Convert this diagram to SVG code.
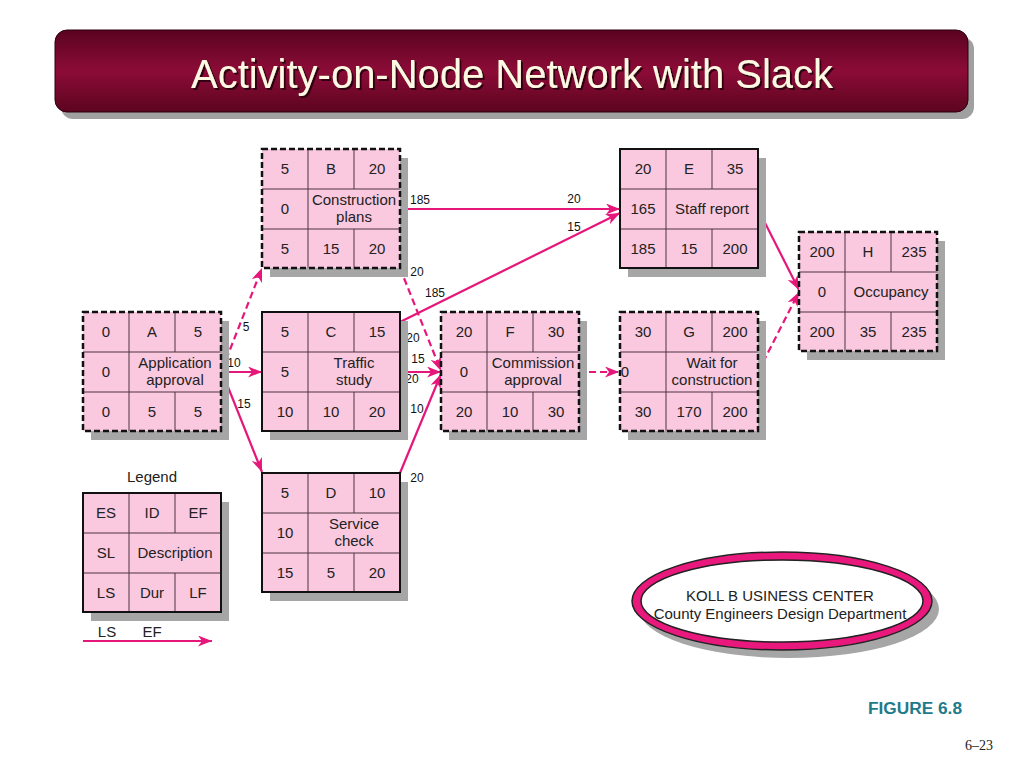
<svg xmlns="http://www.w3.org/2000/svg" width="1024" height="768" viewBox="0 0 1024 768">
<defs>
<linearGradient id="bar" x1="0" y1="0" x2="0" y2="1">
<stop offset="0" stop-color="#5a0320"/>
<stop offset="0.5" stop-color="#8c0c37"/>
<stop offset="1" stop-color="#5c0420"/>
</linearGradient>
<filter id="ts" x="-5%" y="-20%" width="110%" height="150%">
<feDropShadow dx="2" dy="2" stdDeviation="0.6" flood-color="#2a0008" flood-opacity="0.9"/>
</filter>
<marker id="ah" markerUnits="userSpaceOnUse" markerWidth="15" markerHeight="11" refX="14" refY="5.5" orient="auto">
<path d="M0,0 L14,5.5 L0,11 L4,5.5 Z" fill="#e6177b"/>
</marker>
<style>
.cell{fill:#fac8df}
.grid{stroke:#4b3540;stroke-width:1;fill:none}
.crit{fill:none;stroke:#111;stroke-width:2.5;stroke-dasharray:6 3}
.norm{fill:none;stroke:#111;stroke-width:2}
.shadow{fill:#a6a6a6}
.t{font-family:"Liberation Sans",Arial,sans-serif;font-size:15px;fill:#222;text-anchor:middle}
.lbl{font-family:"Liberation Sans",Arial,sans-serif;font-size:12px;fill:#111;text-anchor:middle}
.edge{fill:none;stroke:#e6177b;stroke-width:2.2;marker-end:url(#ah)}
.dash{stroke-dasharray:7 4}
</style>
</defs>
<rect width="1024" height="768" fill="#ffffff"/>

<g id="title">
<rect x="61" y="37" width="913" height="82" rx="12" fill="#a0a0a0"/>
<rect x="55" y="30" width="913" height="82" rx="12" fill="url(#bar)" stroke="#2a0010" stroke-width="1"/>
<text x="512" y="88" font-family="'Liberation Sans',Arial,sans-serif" font-size="40" fill="#fff9e4" text-anchor="middle" textLength="642" lengthAdjust="spacingAndGlyphs" filter="url(#ts)">Activity-on-Node Network with Slack</text>
</g>

<g id="connectors">
<line class="edge dash" x1="222" y1="370" x2="262" y2="268"/>
<line class="edge" x1="222" y1="372" x2="262" y2="372"/>
<line class="edge" x1="222" y1="372" x2="262" y2="472"/>
<line class="edge" x1="400" y1="209" x2="620" y2="209"/>
<line class="edge dash" x1="400" y1="268" x2="441" y2="371"/>
<line class="edge" x1="400" y1="322" x2="620" y2="213"/>
<line class="edge" x1="400" y1="372" x2="441" y2="372"/>
<line class="edge" x1="400" y1="473" x2="441" y2="374"/>
<line class="edge dash" x1="578" y1="372" x2="619" y2="372"/>
<line class="edge" x1="758" y1="209" x2="799" y2="290"/>
<line class="edge dash" x1="758" y1="372" x2="799" y2="292"/>
<line class="edge" x1="83" y1="641" x2="212" y2="641"/>
<text class="lbl" x="246" y="331">5</text>
<text class="lbl" x="234" y="367">10</text>
<text class="lbl" x="244" y="408">15</text>
<text class="lbl" x="420" y="204">185</text>
<text class="lbl" x="574" y="203">20</text>
<text class="lbl" x="574" y="231">15</text>
<text class="lbl" x="417" y="276">20</text>
<text class="lbl" x="435" y="297">185</text>
<text class="lbl" x="413" y="342">20</text>
<text class="lbl" x="418" y="363">15</text>
<text class="lbl" x="412" y="383">20</text>
<text class="lbl" x="417" y="413">10</text>
<text class="lbl" x="417" y="482">20</text>
</g>

<g id="node-A" transform="translate(83,312)">
<rect class="shadow" x="8" y="9" width="138" height="119"/>
<rect class="cell" width="138" height="119"/>
<path class="grid" d="M0 40H138M0 80H138M46 0V119M92 0V40M92 80V119"/>
<rect class="crit" width="138" height="119"/>
<text class="t" x="23" y="25">0</text><text class="t" x="69" y="25">A</text><text class="t" x="115" y="25">5</text>
<text class="t" x="23" y="65">0</text><text class="t" x="92" y="56">Application</text><text class="t" x="92" y="73">approval</text>
<text class="t" x="23" y="105">0</text><text class="t" x="69" y="105">5</text><text class="t" x="115" y="105">5</text>
</g>

<g id="node-B" transform="translate(262,149)">
<rect class="shadow" x="8" y="9" width="138" height="119"/>
<rect class="cell" width="138" height="119"/>
<path class="grid" d="M0 40H138M0 80H138M46 0V119M92 0V40M92 80V119"/>
<rect class="crit" width="138" height="119"/>
<text class="t" x="23" y="25">5</text><text class="t" x="69" y="25">B</text><text class="t" x="115" y="25">20</text>
<text class="t" x="23" y="65">0</text><text class="t" x="92" y="56">Construction</text><text class="t" x="92" y="73">plans</text>
<text class="t" x="23" y="105">5</text><text class="t" x="69" y="105">15</text><text class="t" x="115" y="105">20</text>
</g>

<g id="node-C" transform="translate(262,312)">
<rect class="shadow" x="8" y="9" width="138" height="119"/>
<rect class="cell" width="138" height="119"/>
<path class="grid" d="M0 40H138M0 80H138M46 0V119M92 0V40M92 80V119"/>
<rect class="norm" width="138" height="119"/>
<text class="t" x="23" y="25">5</text><text class="t" x="69" y="25">C</text><text class="t" x="115" y="25">15</text>
<text class="t" x="23" y="65">5</text><text class="t" x="92" y="56">Traffic</text><text class="t" x="92" y="73">study</text>
<text class="t" x="23" y="105">10</text><text class="t" x="69" y="105">10</text><text class="t" x="115" y="105">20</text>
</g>

<g id="node-D" transform="translate(262,473)">
<rect class="shadow" x="8" y="9" width="138" height="119"/>
<rect class="cell" width="138" height="119"/>
<path class="grid" d="M0 40H138M0 80H138M46 0V119M92 0V40M92 80V119"/>
<rect class="norm" width="138" height="119"/>
<text class="t" x="23" y="25">5</text><text class="t" x="69" y="25">D</text><text class="t" x="115" y="25">10</text>
<text class="t" x="23" y="65">10</text><text class="t" x="92" y="56">Service</text><text class="t" x="92" y="73">check</text>
<text class="t" x="23" y="105">15</text><text class="t" x="69" y="105">5</text><text class="t" x="115" y="105">20</text>
</g>

<g id="node-E" transform="translate(620,149)">
<rect class="shadow" x="8" y="9" width="138" height="119"/>
<rect class="cell" width="138" height="119"/>
<path class="grid" d="M0 40H138M0 80H138M46 0V119M92 0V40M92 80V119"/>
<rect class="norm" width="138" height="119"/>
<text class="t" x="23" y="25">20</text><text class="t" x="69" y="25">E</text><text class="t" x="115" y="25">35</text>
<text class="t" x="23" y="65">165</text><text class="t" x="92" y="65">Staff report</text>
<text class="t" x="23" y="105">185</text><text class="t" x="69" y="105">15</text><text class="t" x="115" y="105">200</text>
</g>

<g id="node-F" transform="translate(441,312)">
<rect class="shadow" x="8" y="9" width="138" height="119"/>
<rect class="cell" width="138" height="119"/>
<path class="grid" d="M0 40H138M0 80H138M46 0V119M92 0V40M92 80V119"/>
<rect class="crit" width="138" height="119"/>
<text class="t" x="23" y="25">20</text><text class="t" x="69" y="25">F</text><text class="t" x="115" y="25">30</text>
<text class="t" x="23" y="65">0</text><text class="t" x="92" y="56">Commission</text><text class="t" x="92" y="73">approval</text>
<text class="t" x="23" y="105">20</text><text class="t" x="69" y="105">10</text><text class="t" x="115" y="105">30</text>
</g>

<g id="node-G" transform="translate(620,312)">
<rect class="shadow" x="8" y="9" width="138" height="119"/>
<rect class="cell" width="138" height="119"/>
<path class="grid" d="M0 40H138M0 80H138M46 0V119M92 0V40M92 80V119"/>
<rect class="crit" width="138" height="119"/>
<text class="t" x="23" y="25">30</text><text class="t" x="69" y="25">G</text><text class="t" x="115" y="25">200</text>
<text class="t" x="5" y="65">0</text><text class="t" x="92" y="56">Wait for</text><text class="t" x="92" y="73">construction</text>
<text class="t" x="23" y="105">30</text><text class="t" x="69" y="105">170</text><text class="t" x="115" y="105">200</text>
</g>

<g id="node-H" transform="translate(799,232)">
<rect class="shadow" x="8" y="9" width="138" height="119"/>
<rect class="cell" width="138" height="119"/>
<path class="grid" d="M0 40H138M0 80H138M46 0V119M92 0V40M92 80V119"/>
<rect class="crit" width="138" height="119"/>
<text class="t" x="23" y="25">200</text><text class="t" x="69" y="25">H</text><text class="t" x="115" y="25">235</text>
<text class="t" x="23" y="65">0</text><text class="t" x="92" y="65">Occupancy</text>
<text class="t" x="23" y="105">200</text><text class="t" x="69" y="105">35</text><text class="t" x="115" y="105">235</text>
</g>

<g id="legend">
<text class="t" x="152" y="482">Legend</text>
<g transform="translate(83,493)">
<rect class="shadow" x="8" y="9" width="138" height="119"/>
<rect class="cell" width="138" height="119"/>
<path class="grid" d="M0 40H138M0 80H138M46 0V119M92 0V40M92 80V119"/>
<rect class="norm" width="138" height="119"/>
<text class="t" x="23" y="25">ES</text><text class="t" x="69" y="25">ID</text><text class="t" x="115" y="25">EF</text>
<text class="t" x="23" y="65">SL</text><text class="t" x="92" y="65">Description</text>
<text class="t" x="23" y="105">LS</text><text class="t" x="69" y="105">Dur</text><text class="t" x="115" y="105">LF</text>
</g>
<text class="t" x="107" y="637">LS</text>
<text class="t" x="152" y="637">EF</text>
</g>

<g id="badge">
<ellipse cx="789" cy="609" rx="150" ry="49" fill="#a6a6a6"/>
<ellipse cx="782" cy="601" rx="150" ry="49" fill="#e8187c" stroke="#222" stroke-width="1.5"/>
<ellipse cx="782" cy="601" rx="141" ry="41" fill="#ffffff" stroke="#222" stroke-width="1.5"/>
<text class="t" x="780" y="601">KOLL B USINESS CENTER</text>
<text class="t" x="780" y="619">County Engineers Design Department</text>
</g>

<text x="868" y="714" font-family="'Liberation Sans',Arial,sans-serif" font-size="16" font-weight="bold" fill="#1e7b8a" textLength="94" lengthAdjust="spacingAndGlyphs">FIGURE 6.8</text>
<text x="965" y="750" font-family="'Liberation Serif','Times New Roman',serif" font-size="14" fill="#222">6–23</text>
</svg>
